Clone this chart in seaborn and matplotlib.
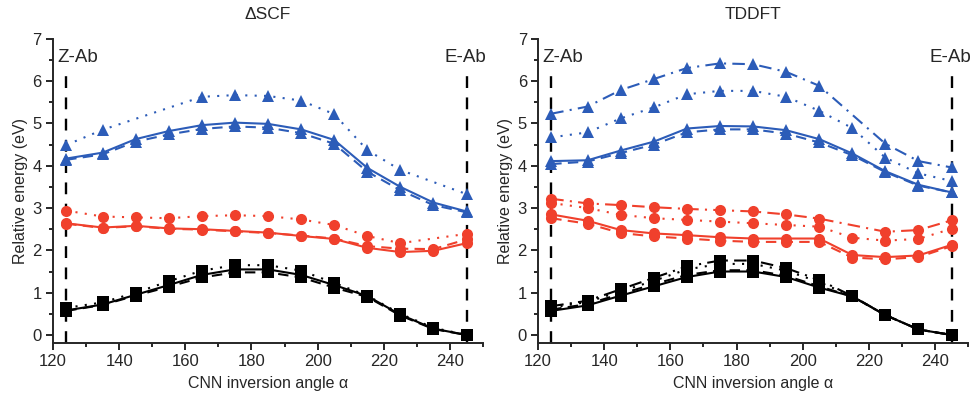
import numpy as np
import matplotlib
matplotlib.use("Agg")
import matplotlib.pyplot as plt
from matplotlib.ticker import MultipleLocator
import seaborn as sns

angles = [124, 135, 145, 155, 165, 175, 185, 195, 205, 215, 225, 235, 245]
nan = np.nan

# Delta SCF panel
scf_black_solid = [0.58, 0.72, 0.95, 1.18, 1.42, 1.55, 1.55, 1.42, 1.18, 0.92, 0.48, 0.15, 0.0]
scf_black_dashed = [0.57, 0.71, 0.93, 1.14, 1.36, 1.48, 1.48, 1.36, 1.12, 0.90, 0.46, 0.14, 0.0]
scf_black_dotted = [0.64, 0.77, 1.00, 1.27, 1.52, 1.65, 1.65, 1.52, 1.23, 0.93, 0.50, 0.17, 0.0]
scf_red_solid = [2.64, 2.54, 2.58, 2.52, 2.50, 2.46, 2.42, 2.34, 2.27, 2.06, 1.96, 1.99, 2.17]
scf_red_dashed = [2.63, 2.53, 2.57, 2.51, 2.49, 2.45, 2.41, 2.35, 2.28, 2.10, 2.04, 2.03, 2.26]
scf_red_dotted = [2.94, 2.80, 2.78, 2.76, 2.81, 2.83, 2.81, 2.73, 2.60, 2.34, 2.17, nan, 2.39]
scf_blue_solid = [4.17, 4.31, 4.63, 4.82, 4.96, 5.02, 4.99, 4.86, 4.61, 3.95, 3.50, 3.13, 2.92]
scf_blue_dashed = [4.14, 4.27, 4.57, 4.74, 4.87, 4.93, 4.90, 4.77, 4.52, 3.86, 3.42, 3.07, 2.90]
scf_blue_dotted = [4.49, 4.85, nan, nan, 5.63, 5.67, 5.65, 5.54, 5.22, 4.37, 3.90, nan, 3.33]

# TDDFT panel
td_black_solid = [0.57, 0.70, 0.93, 1.15, 1.37, 1.50, 1.50, 1.37, 1.12, 0.91, 0.47, 0.13, 0.0]
td_black_dashed = [0.60, 0.73, 0.97, 1.20, 1.42, 1.53, 1.53, 1.40, 1.15, 0.91, 0.47, 0.13, 0.0]
td_black_dotted = [0.65, 0.78, 1.03, 1.28, 1.55, 1.68, 1.68, 1.52, 1.25, 0.91, 0.47, 0.13, 0.0]
td_black_dashdot = [0.68, 0.81, 1.08, 1.35, 1.62, 1.76, 1.76, 1.58, 1.30, 0.92, 0.47, 0.13, 0.0]
td_red_solid = [2.85, 2.70, 2.48, 2.40, 2.36, 2.31, 2.28, 2.28, 2.28, 1.89, 1.84, 1.88, 2.13]
td_red_dashed = [2.76, 2.63, 2.41, 2.33, 2.28, 2.23, 2.20, 2.20, 2.20, 1.83, 1.79, 1.84, 2.10]
td_red_dotted = [3.12, 3.00, 2.84, 2.76, 2.72, 2.68, 2.64, 2.60, 2.56, 2.30, 2.23, 2.27, 2.51]
td_red_dashdot = [3.22, 3.11, 3.07, 3.02, 2.98, 2.95, 2.92, 2.85, 2.75, nan, 2.44, 2.48, 2.71]
td_blue_solid = [4.11, 4.13, 4.36, 4.57, 4.88, 4.94, 4.93, 4.84, 4.63, 4.29, 3.87, 3.55, 3.37]
td_blue_dashed = [4.04, 4.10, 4.30, 4.50, 4.79, 4.86, 4.86, 4.76, 4.55, 4.25, 3.85, 3.53, 3.37]
td_blue_dotted = [4.67, 4.79, 5.12, 5.38, 5.69, 5.77, 5.77, 5.63, 5.30, 4.89, 4.19, 3.82, 3.64]
td_blue_dashdot = [5.23, 5.40, 5.79, 6.05, 6.31, 6.42, 6.40, 6.22, 5.89, nan, 4.52, 4.11, 3.96]

BLACK = "#000000"
RED = "#f0402c"
BLUE = "#2c5cb8"
STYLES = {"solid": "-", "dashed": (0, (5, 3)), "dotted": (0, (1, 3.5)),
          "dashdot": (0, (6, 3, 1, 3))}
MARKERS = {BLACK: "s", RED: "o", BLUE: "^"}

sns.set_style("ticks")
plt.rcParams["font.family"] = ["Liberation Sans", "DejaVu Sans"]

fig = plt.figure(figsize=(9.72, 3.94), dpi=100)
ax1 = fig.add_axes([0.0545, 0.1294, 0.4425, 0.772])
ax2 = fig.add_axes([0.5535, 0.1294, 0.4425, 0.772])


def draw(ax, vals, color, style):
    x = np.array(angles, dtype=float)
    y = np.array(vals, dtype=float)
    ok = ~np.isnan(y)
    sns.lineplot(x=x[ok], y=y[ok], ax=ax, color=color, linestyle=STYLES[style],
                 marker=MARKERS[color], markersize=8, markeredgewidth=0,
                 linewidth=1.5, estimator=None, sort=False, zorder=3)


for vals, c, s in [
    (scf_black_solid, BLACK, "solid"), (scf_black_dashed, BLACK, "dashed"),
    (scf_black_dotted, BLACK, "dotted"),
    (scf_red_solid, RED, "solid"), (scf_red_dashed, RED, "dashed"),
    (scf_red_dotted, RED, "dotted"),
    (scf_blue_solid, BLUE, "solid"), (scf_blue_dashed, BLUE, "dashed"),
    (scf_blue_dotted, BLUE, "dotted"),
]:
    draw(ax1, vals, c, s)

for vals, c, s in [
    (td_black_solid, BLACK, "solid"), (td_black_dashed, BLACK, "dashed"),
    (td_black_dotted, BLACK, "dotted"), (td_black_dashdot, BLACK, "dashdot"),
    (td_red_solid, RED, "solid"), (td_red_dashed, RED, "dashed"),
    (td_red_dotted, RED, "dotted"), (td_red_dashdot, RED, "dashdot"),
    (td_blue_solid, BLUE, "solid"), (td_blue_dashed, BLUE, "dashed"),
    (td_blue_dotted, BLUE, "dotted"), (td_blue_dashdot, BLUE, "dashdot"),
]:
    draw(ax2, vals, c, s)

for ax, title in [(ax1, "\u0394SCF"), (ax2, "TDDFT")]:
    ax.set_xlim(120, 250)
    ax.set_ylim(-0.19, 7)
    ax.xaxis.set_major_locator(MultipleLocator(20))
    ax.xaxis.set_minor_locator(MultipleLocator(10))
    ax.yaxis.set_major_locator(MultipleLocator(1))
    ax.yaxis.set_minor_locator(MultipleLocator(0.5))
    ax.tick_params(which="major", length=5, width=1.4, labelsize=12, direction="out",
                   pad=3)
    ax.tick_params(which="minor", length=3, width=1.4, direction="out")
    for side in ["left", "bottom"]:
        ax.spines[side].set_linewidth(1.4)
    sns.despine(ax=ax)
    ax.set_xlabel("CNN inversion angle \u03b1", fontsize=11.5, labelpad=5)
    ax.set_ylabel("Relative energy (eV)", fontsize=11.5, labelpad=3)
    ax.set_title(title, fontsize=12.5, pad=14)
    ax.vlines([124, 245], -0.19, 6.2, colors="black", linestyles=(0, (5, 4)),
              linewidth=1.7, zorder=2)
    ax.text(121.3, 6.55, "Z-Ab", fontsize=13.5, ha="left", va="center")
    ax.text(251, 6.55, "E-Ab", fontsize=13.5, ha="right", va="center", clip_on=False)

fig.savefig("out.png", dpi=100, facecolor="white")
